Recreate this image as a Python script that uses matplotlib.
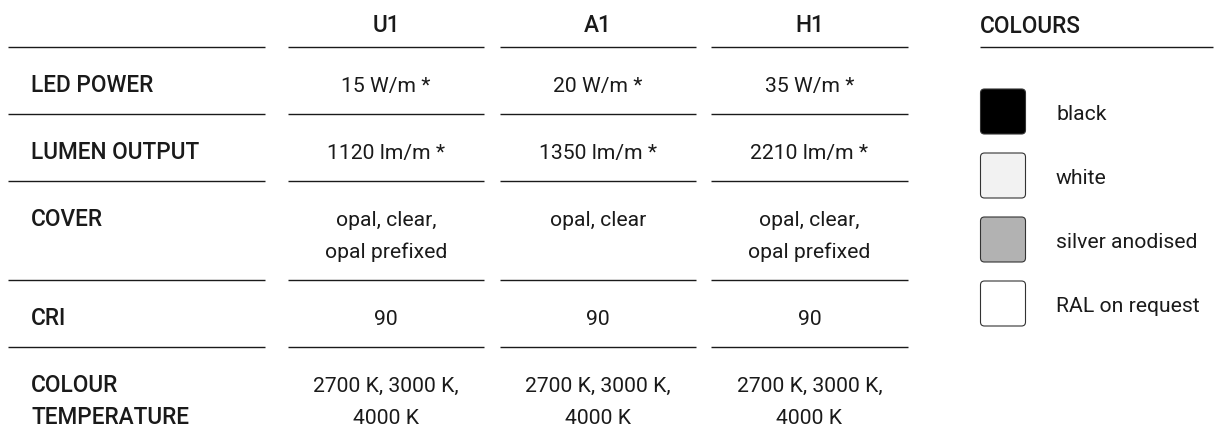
import matplotlib
matplotlib.use('Agg')
import matplotlib.pyplot as plt
from matplotlib.patches import FancyBboxPatch

# table content
columns = ['U1', 'A1', 'H1']
row_labels = ['LED POWER', 'LUMEN OUTPUT', 'COVER', 'CRI', 'COLOUR\nTEMPERATURE']
values = [
    ['15 W/m *', '20 W/m *', '35 W/m *'],
    ['1120 lm/m *', '1350 lm/m *', '2210 lm/m *'],
    ['opal, clear,\nopal prefixed', 'opal, clear', 'opal, clear,\nopal prefixed'],
    ['90', '90', '90'],
    ['2700 K, 3000 K,\n4000 K', '2700 K, 3000 K,\n4000 K', '2700 K, 3000 K,\n4000 K'],
]
colour_names = ['black', 'white', 'silver anodised', 'RAL on request']
colour_fills = ['#000000', '#f2f2f2', '#b2b2b2', '#ffffff']

plt.rcParams['font.family'] = ['Roboto', 'DejaVu Sans']
ink = '#1a1a1a'
fs = 15.2      # body text
fs_head = 16.3 # row labels, headers

fig = plt.figure(figsize=(12.15, 4.44), dpi=100)
ax = fig.add_axes([0, 0, 1, 1])
ax.set_xlim(0, 1215)
ax.set_ylim(444, 0)
ax.axis('off')

# layout in pixels
label_x0, label_x1, label_text_x = 8, 265, 31
col_x = [(288, 484), (500, 696), (711, 908)]
rule_y = [47, 114, 181, 280, 347]
row_base = [92, 159, 226, 325, 392]
line_step = 32

# header
for (x0, x1), name in zip(col_x, columns):
    ax.text((x0 + x1) / 2, 32, name, ha='center', va='baseline',
            fontsize=fs_head, fontweight='medium', color=ink)

# rules
for y in rule_y:
    ax.plot([label_x0, label_x1], [y, y], color=ink, lw=1.0, solid_capstyle='butt')
    for x0, x1 in col_x:
        ax.plot([x0, x1], [y, y], color=ink, lw=1.0, solid_capstyle='butt')

# rows
for r, label in enumerate(row_labels):
    for k, part in enumerate(label.split('\n')):
        ax.text(label_text_x, row_base[r] + k * line_step, part, ha='left',
                va='baseline', fontsize=fs_head, fontweight='medium', color=ink)
    for c, (x0, x1) in enumerate(col_x):
        for k, part in enumerate(values[r][c].split('\n')):
            ax.text((x0 + x1) / 2, row_base[r] + k * line_step, part, ha='center',
                    va='baseline', fontsize=fs, color=ink)

# colour panel
ax.text(980, 33, 'COLOURS', ha='left', va='baseline', fontsize=fs_head,
        fontweight='medium', color=ink)
ax.plot([980, 1213], [47, 47], color=ink, lw=1.0, solid_capstyle='butt')
for i, (name, fill) in enumerate(zip(colour_names, colour_fills)):
    top = 89 + i * 64
    box = FancyBboxPatch((980.5 + 4, top + 4), 45 - 8, 45 - 8,
                         boxstyle='round,pad=4', facecolor=fill,
                         edgecolor='#333333', lw=0.8)
    ax.add_patch(box)
    ax.text(1056, top + 31, name, ha='left', va='baseline', fontsize=fs, color=ink)

fig.savefig('out.png', dpi=100, facecolor='white')
